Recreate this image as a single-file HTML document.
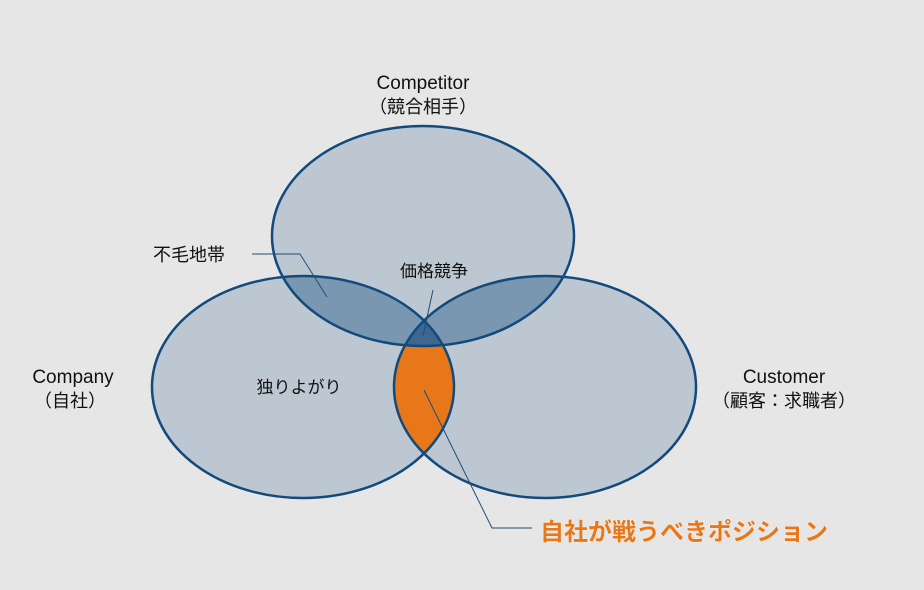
<!DOCTYPE html>
<html><head><meta charset="utf-8"><style>
html,body{margin:0;padding:0;background:#e6e6e6;}
svg{display:block}
text{font-family:"Liberation Sans","Noto Sans CJK JP",sans-serif;fill:#111;}
</style></head><body>
<svg width="924" height="590" viewBox="0 0 924 590" xmlns="http://www.w3.org/2000/svg">
<defs>
<clipPath id="cT"><ellipse cx="423" cy="236" rx="151" ry="110"/></clipPath>
<clipPath id="cL"><ellipse cx="303" cy="387" rx="151" ry="111"/></clipPath>
<clipPath id="cR"><ellipse cx="545" cy="387" rx="151" ry="111"/></clipPath>
</defs>
<rect width="924" height="590" fill="#e6e6e6"/>
<ellipse cx="423" cy="236" rx="151" ry="110" fill="#bdc7d1"/>
<ellipse cx="303" cy="387" rx="151" ry="111" fill="#bdc7d1"/>
<ellipse cx="545" cy="387" rx="151" ry="111" fill="#bdc7d1"/>
<g clip-path="url(#cT)">
<ellipse cx="303" cy="387" rx="151" ry="111" fill="#7a97b1"/>
<ellipse cx="545" cy="387" rx="151" ry="111" fill="#7a97b1"/>
</g>
<g clip-path="url(#cL)"><ellipse cx="545" cy="387" rx="151" ry="111" fill="#e87719"/></g>
<g clip-path="url(#cT)"><g clip-path="url(#cL)"><ellipse cx="545" cy="387" rx="151" ry="111" fill="#3d6690"/></g></g>
<g fill="none" stroke="#124a7c" stroke-width="2.5">
<ellipse cx="423" cy="236" rx="151" ry="110"/>
<ellipse cx="303" cy="387" rx="151" ry="111"/>
<ellipse cx="545" cy="387" rx="151" ry="111"/>
</g>
<g fill="none" stroke="#1f4e79" stroke-width="1">
<polyline points="252,254 300,254 327,297"/>
<line x1="433" y1="290" x2="423" y2="336"/>
<polyline points="424,390 492,528 532,528"/>
</g>
<text x="423" y="89" font-size="19" text-anchor="middle">Competitor</text>
<text x="423" y="113" font-size="18" text-anchor="middle">（競合相手）</text>
<text x="73" y="383" font-size="19" text-anchor="middle">Company</text>
<text x="70" y="407" font-size="18" text-anchor="middle">（自社）</text>
<text x="784" y="383" font-size="19" text-anchor="middle">Customer</text>
<text x="784" y="407" font-size="18" text-anchor="middle">（顧客：求職者）</text>
<text x="189" y="261" font-size="18" text-anchor="middle">不毛地帯</text>
<text x="434" y="277" font-size="17" text-anchor="middle">価格競争</text>
<text x="299" y="393" font-size="17" text-anchor="middle">独りよがり</text>
<text x="684" y="540" font-size="24" font-weight="bold" text-anchor="middle" style="fill:#e87719" stroke="#fff" stroke-width="0.6" paint-order="stroke">自社が戦うべきポジション</text>
</svg>
</body></html>
